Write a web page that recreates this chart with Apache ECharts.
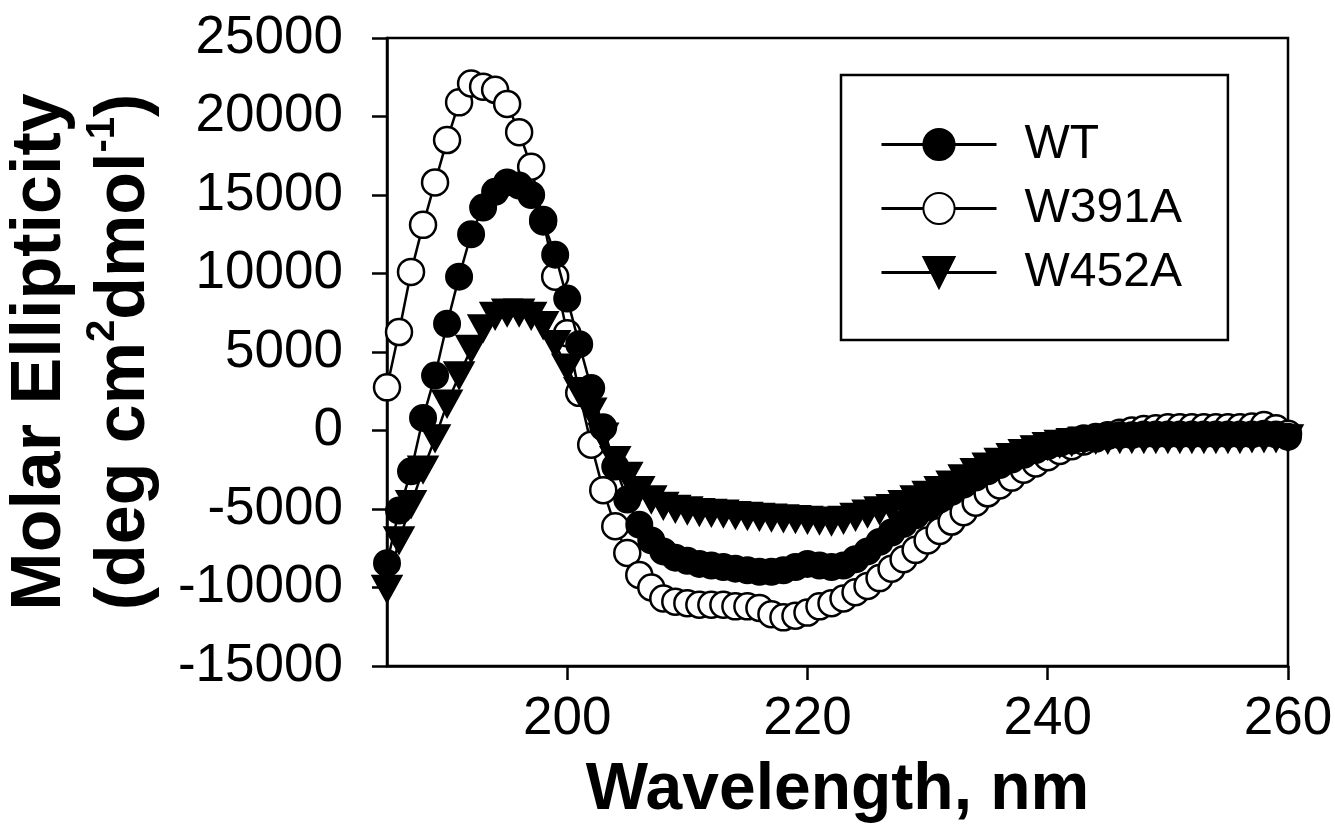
<!DOCTYPE html>
<html><head><meta charset="utf-8">
<script src="https://cdn.jsdelivr.net/npm/echarts@6/dist/echarts.min.js"></script>
<style>html,body{margin:0;padding:0;background:#fff}#c{width:1335px;height:837px}</style>
</head><body><div id="c"></div>
<script>
// ---- data ----
const wavelength = [185,186,187,188,189,190,191,192,193,194,195,196,197,198,199,200,201,202,203,204,205,206,207,208,209,210,211,212,213,214,215,216,217,218,219,220,221,222,223,224,225,226,227,228,229,230,231,232,233,234,235,236,237,238,239,240,241,242,243,244,245,246,247,248,249,250,251,252,253,254,255,256,257,258,259,260];
const seriesNames = ['WT', 'W391A', 'W452A'];
const wt = [-8450,-5100,-2600,800,3500,6800,9800,12500,14200,15200,15800,15600,15000,13300,11200,8400,5500,2700,200,-2300,-4400,-6000,-7000,-7700,-8100,-8300,-8500,-8600,-8700,-8800,-8900,-9000,-9000,-8900,-8700,-8500,-8600,-8700,-8600,-8200,-7700,-7100,-6500,-5950,-5400,-4900,-4400,-3900,-3450,-3000,-2600,-2200,-1850,-1550,-1250,-1000,-800,-650,-500,-400,-350,-300,-300,-250,-250,-250,-250,-250,-250,-250,-250,-250,-250,-200,-250,-400];
const w391a = [2750,6270,10100,13100,15800,18500,20900,22100,21900,21700,20800,19000,16800,13400,9800,6200,2400,-900,-3800,-6100,-7800,-9200,-10000,-10700,-10900,-11000,-11100,-11100,-11100,-11200,-11200,-11300,-11700,-11900,-11800,-11600,-11200,-11000,-10700,-10300,-9900,-9400,-8800,-8200,-7600,-7000,-6400,-5800,-5200,-4600,-4000,-3500,-3000,-2500,-2100,-1700,-1300,-1000,-700,-500,-300,-150,0,100,150,200,200,200,200,200,200,200,250,350,150,-200];
const w452a = [-10100,-7000,-4700,-2500,-500,1700,3500,5200,6500,7300,7500,7500,7300,6700,5500,4000,2500,1200,-400,-1900,-2900,-3800,-4400,-4800,-5000,-5100,-5200,-5250,-5300,-5400,-5450,-5500,-5550,-5600,-5650,-5700,-5750,-5800,-5700,-5500,-5300,-5100,-4950,-4700,-4400,-4100,-3800,-3450,-3050,-2650,-2300,-2000,-1700,-1450,-1200,-1000,-850,-750,-650,-600,-600,-550,-550,-550,-550,-550,-550,-550,-550,-550,-550,-550,-500,-500,-500,-500];
const xTickValues = [200, 220, 240, 260];
const xTitle = 'Wavelength, nm';

// ---- chart ----
const FONT = "'Liberation Sans', Arial, Helvetica, sans-serif";
const chart = echarts.init(document.getElementById('c'), null, {renderer: 'canvas'});
function pairs(vals) { return wavelength.map((w, i) => [w, vals[i]]); }

const baseSeries = {
  type: 'line', clip: false, silent: true,
  lineStyle: {color: '#000', width: 2.5},
  emphasis: {disabled: true}
};

const option = {
  animation: false,
  backgroundColor: '#fff',
  grid: {left: 387, right: 47, top: 38, bottom: 171, containLabel: false, outerBoundsMode: 'none',
    show: true, borderColor: '#000', borderWidth: 2.5, backgroundColor: 'transparent'},
  legend: {
    data: seriesNames, orient: 'vertical', left: 841, top: 75,
    padding: [42, 46, 40, 39], itemWidth: 115, itemHeight: 39, itemGap: 9,
    borderColor: '#000', borderWidth: 2.5, backgroundColor: '#fff',
    lineStyle: {color: '#000', width: 3},
    textStyle: {fontFamily: FONT, fontSize: 48, lineHeight: 55, color: '#000', padding: [0, 0, 0, 23]}
  },
  xAxis: {
    type: 'value', min: 185, max: 260,
    name: xTitle, nameLocation: 'middle', nameGap: 92,
    nameTextStyle: {fontFamily: FONT, fontWeight: 'bold', fontSize: 66, color: '#000'},
    axisLine: {show: true, onZero: false, lineStyle: {color: '#000', width: 2.5}},
    axisTick: {show: true, inside: false, length: 14, customValues: xTickValues, lineStyle: {color: '#000', width: 2.5}},
    axisLabel: {customValues: xTickValues, margin: 27, fontFamily: FONT, fontSize: 53, color: '#000'},
    splitLine: {show: false}
  },
  yAxis: {
    type: 'value', min: -15000, max: 25000, interval: 5000,
    name: '{t|Molar Ellipticity}\n{t|(deg cm}{s|2}{t|dmol}{s|-1}{t|)}',
    nameLocation: 'middle', nameGap: 209, nameRotate: 90,
    nameTextStyle: {
      fontFamily: FONT, fontWeight: 'bold', fontSize: 70, color: '#000', lineHeight: 84,
      rich: {
        t: {fontFamily: FONT, fontWeight: 'bold', fontSize: 70, lineHeight: 84, color: '#000'},
        s: {fontFamily: FONT, fontWeight: 'bold', fontSize: 40, lineHeight: 46, verticalAlign: 'top', color: '#000'}
      }
    },
    axisLine: {show: true, onZero: false, lineStyle: {color: '#000', width: 2.5}},
    axisTick: {show: true, inside: false, length: 15, lineStyle: {color: '#000', width: 2.5}},
    axisLabel: {margin: 44, fontFamily: FONT, fontSize: 53, color: '#000', formatter: v => String(v)},
    splitLine: {show: false}
  },
  series: [
    Object.assign({}, baseSeries, {name: 'WT', data: pairs(wt), symbol: 'circle', symbolSize: 26, z: 3,
      itemStyle: {color: '#000', borderColor: '#000', borderWidth: 2}}),
    Object.assign({}, baseSeries, {name: 'W391A', data: pairs(w391a), symbol: 'circle', symbolSize: 26, z: 2,
      itemStyle: {color: '#fff', borderColor: '#000', borderWidth: 2.5}}),
    Object.assign({}, baseSeries, {name: 'W452A', data: pairs(w452a), symbol: 'triangle', symbolRotate: 180, symbolSize: [30, 27], z: 4,
      itemStyle: {color: '#000', borderColor: '#000', borderWidth: 1.5}})
  ]
};
chart.setOption(option);
</script>
</body></html>
